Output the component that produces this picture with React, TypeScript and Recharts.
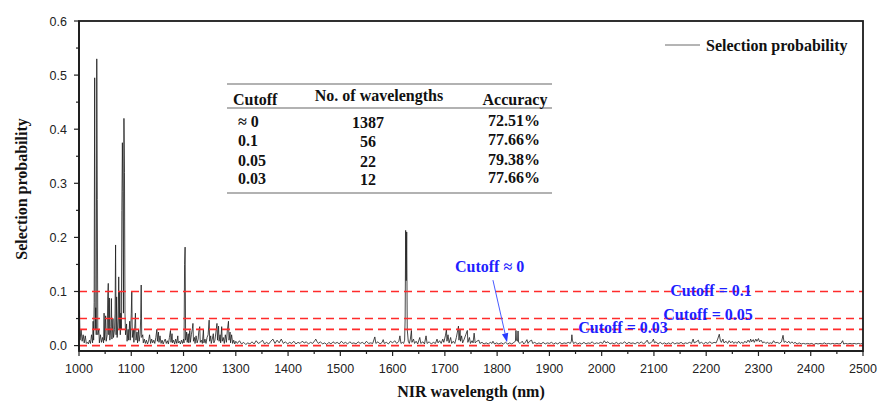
import { LineChart, Line, XAxis, YAxis, ReferenceLine } from "recharts";

// selection probability per wavelength (nm)
const band1000 = [
  [1000, 0.02], [1001, 0.066], [1002, 0.01], [1004, 0.03], [1006, 0.008], [1008, 0.02], [1010, 0.005],
  [1012, 0.018], [1014, 0.004], [1016, 0.006], [1018, 0.003], [1020, 0.01], [1022, 0.004], [1024, 0.02],
  [1026, 0.005], [1027, 0.045], [1028, 0.01], [1029, 0.08], [1030, 0.495], [1031, 0.03], [1032, 0.07],
  [1033, 0.02], [1034, 0.53], [1035, 0.27], [1036, 0.02], [1038, 0.03], [1039, 0.005], [1041, 0.02],
  [1043, 0.006], [1045, 0.015], [1047, 0.005], [1048, 0.06], [1049, 0.01], [1051, 0.055], [1052, 0.008],
  [1054, 0.02], [1055, 0.09], [1056, 0.115], [1057, 0.02], [1058, 0.088], [1059, 0.01], [1061, 0.035],
  [1062, 0.087], [1063, 0.012], [1065, 0.05], [1066, 0.015], [1068, 0.03], [1069, 0.06], [1070, 0.186],
  [1071, 0.02], [1072, 0.09], [1073, 0.015], [1075, 0.05], [1076, 0.127], [1077, 0.03], [1078, 0.1],
  [1079, 0.02], [1080, 0.06], [1081, 0.03], [1082, 0.25], [1083, 0.375], [1084, 0.285], [1085, 0.06],
  [1086, 0.42], [1087, 0.32], [1088, 0.06], [1089, 0.02], [1091, 0.04], [1092, 0.008], [1094, 0.03],
  [1095, 0.01], [1097, 0.045], [1098, 0.01], [1100, 0.06], [1101, 0.1], [1102, 0.015], [1104, 0.03],
  [1105, 0.006], [1107, 0.04], [1108, 0.06], [1109, 0.01], [1111, 0.025], [1112, 0.005], [1114, 0.03],
  [1115, 0.008], [1117, 0.02], [1118, 0.05], [1119, 0.112], [1120, 0.015], [1122, 0.02], [1123, 0.005],
];

const band1125 = [
  [1125, 0.012], [1127, 0.004], [1129, 0.01], [1131, 0.003], [1133, 0.008], [1135, 0.02], [1137, 0.004],
  [1139, 0.012], [1141, 0.005], [1143, 0.01], [1145, 0.004], [1147, 0.015], [1149, 0.03], [1150, 0.008],
  [1152, 0.025], [1153, 0.006], [1155, 0.018], [1157, 0.004], [1159, 0.01], [1161, 0.003], [1163, 0.008],
  [1165, 0.012], [1167, 0.004], [1169, 0.009], [1171, 0.003], [1173, 0.015], [1175, 0.028], [1176, 0.006],
  [1178, 0.022], [1179, 0.005], [1181, 0.01], [1183, 0.003], [1185, 0.012], [1187, 0.004], [1189, 0.018],
  [1190, 0.005], [1192, 0.008], [1194, 0.003], [1196, 0.01], [1198, 0.004], [1200, 0.012], [1201, 0.005],
  [1202, 0.15], [1203, 0.182], [1204, 0.01], [1206, 0.025], [1207, 0.006], [1209, 0.022], [1210, 0.005],
  [1212, 0.028], [1213, 0.006], [1215, 0.02], [1217, 0.032], [1218, 0.041], [1219, 0.008], [1221, 0.015],
  [1222, 0.004], [1224, 0.018], [1226, 0.005], [1228, 0.012], [1229, 0.025], [1231, 0.035], [1232, 0.006],
  [1234, 0.01], [1236, 0.004], [1238, 0.029], [1239, 0.005], [1241, 0.012], [1243, 0.004], [1245, 0.015],
  [1247, 0.02], [1249, 0.047], [1250, 0.008], [1252, 0.018], [1253, 0.004], [1255, 0.012], [1257, 0.022],
  [1258, 0.005], [1260, 0.01], [1262, 0.025], [1264, 0.041], [1265, 0.01], [1267, 0.036], [1268, 0.008],
  [1270, 0.02], [1271, 0.005], [1273, 0.035], [1274, 0.008], [1276, 0.015], [1278, 0.004], [1280, 0.02],
  [1282, 0.006], [1284, 0.03], [1286, 0.045], [1287, 0.01], [1289, 0.025], [1290, 0.005], [1292, 0.02],
  [1294, 0.004], [1296, 0.01], [1298, 0.003], [1300, 0.008],
];

const band1300 = [
  [1303, 0.004], [1307, 0.009], [1311, 0.003], [1315, 0.006], [1319, 0.002], [1323, 0.005], [1327, 0.003],
  [1331, 0.007], [1335, 0.003], [1339, 0.009], [1343, 0.004], [1347, 0.006], [1351, 0.01], [1355, 0.003],
  [1359, 0.006], [1363, 0.003], [1367, 0.008], [1371, 0.012], [1375, 0.004], [1379, 0.01], [1383, 0.005],
  [1387, 0.012], [1391, 0.004], [1395, 0.007], [1399, 0.003], [1403, 0.006], [1407, 0.004], [1411, 0.008],
  [1415, 0.003], [1419, 0.006], [1423, 0.004], [1427, 0.008], [1431, 0.005], [1435, 0.007], [1439, 0.003],
  [1443, 0.006], [1447, 0.004], [1451, 0.009], [1453, 0.012], [1455, 0.008], [1458, 0.004], [1462, 0.007],
  [1466, 0.003], [1470, 0.005], [1474, 0.002], [1478, 0.006], [1482, 0.003], [1486, 0.007], [1490, 0.004],
  [1494, 0.006], [1498, 0.003], [1502, 0.008], [1506, 0.004], [1510, 0.006], [1514, 0.003], [1518, 0.007],
  [1522, 0.004], [1526, 0.005], [1530, 0.003], [1534, 0.007], [1538, 0.004], [1542, 0.006], [1546, 0.003],
  [1550, 0.008], [1554, 0.004], [1558, 0.005], [1562, 0.004], [1566, 0.016], [1568, 0.004], [1572, 0.007],
  [1576, 0.003], [1580, 0.006], [1582, 0.011], [1584, 0.004], [1588, 0.006], [1592, 0.003], [1596, 0.008],
  [1600, 0.005], [1604, 0.009], [1608, 0.004], [1612, 0.008], [1614, 0.018], [1616, 0.004], [1619, 0.006],
  [1621, 0.004],
];

const band1620 = [
  [1623, 0.01], [1624, 0.05], [1625, 0.213], [1626, 0.12], [1627, 0.21], [1628, 0.03], [1630, 0.008],
  [1632, 0.004], [1634, 0.012], [1636, 0.028], [1637, 0.006], [1640, 0.012], [1642, 0.004], [1645, 0.008],
  [1648, 0.003], [1652, 0.015], [1654, 0.004], [1658, 0.007], [1661, 0.003], [1664, 0.018], [1666, 0.004],
  [1670, 0.007], [1674, 0.003], [1678, 0.006], [1682, 0.004], [1685, 0.012], [1687, 0.005], [1690, 0.009],
  [1693, 0.004], [1696, 0.012], [1698, 0.006], [1701, 0.018], [1703, 0.03], [1704, 0.008], [1706, 0.02],
  [1708, 0.005], [1711, 0.015], [1713, 0.004], [1716, 0.008], [1719, 0.004], [1722, 0.015], [1724, 0.025],
  [1726, 0.036], [1727, 0.01], [1729, 0.029], [1730, 0.008], [1732, 0.018], [1734, 0.005], [1737, 0.012],
  [1740, 0.02], [1743, 0.028], [1744, 0.006], [1747, 0.015], [1749, 0.004], [1752, 0.009], [1754, 0.005],
  [1756, 0.023], [1758, 0.005], [1761, 0.008], [1765, 0.01], [1767, 0.004], [1771, 0.006], [1775, 0.003],
  [1779, 0.005], [1783, 0.003], [1787, 0.006], [1790, 0.004], [1792, 0.008], [1795, 0.003], [1799, 0.005],
  [1803, 0.003], [1808, 0.005], [1812, 0.003], [1816, 0.006], [1820, 0.003], [1824, 0.005], [1828, 0.003],
  [1832, 0.006], [1835, 0.008], [1836, 0.028], [1837, 0.01], [1839, 0.008], [1840, 0.027], [1841, 0.006],
  [1844, 0.004], [1848, 0.008], [1851, 0.003], [1854, 0.006], [1857, 0.011], [1859, 0.004], [1862, 0.008],
  [1866, 0.01], [1868, 0.004], [1872, 0.006], [1876, 0.003], [1880, 0.005], [1884, 0.003], [1888, 0.006],
  [1892, 0.003], [1896, 0.005], [1900, 0.004], [1904, 0.006], [1908, 0.003], [1912, 0.005], [1916, 0.003],
  [1920, 0.006], [1924, 0.003], [1928, 0.005], [1932, 0.004], [1936, 0.006], [1940, 0.004], [1942, 0.008],
  [1943, 0.02], [1944, 0.01], [1946, 0.004],
];

const band1950 = [
  [1950, 0.006], [1954, 0.003], [1958, 0.005], [1962, 0.003], [1966, 0.006], [1970, 0.003], [1974, 0.005],
  [1978, 0.004], [1982, 0.007], [1986, 0.003], [1990, 0.005], [1994, 0.004], [1998, 0.006], [2002, 0.004],
  [2005, 0.009], [2008, 0.005], [2012, 0.007], [2016, 0.003], [2020, 0.005], [2024, 0.003], [2028, 0.006],
  [2032, 0.003], [2036, 0.005], [2040, 0.004], [2044, 0.007], [2048, 0.003], [2052, 0.006], [2056, 0.004],
  [2060, 0.005], [2064, 0.003], [2068, 0.006], [2072, 0.004], [2076, 0.007], [2080, 0.003], [2084, 0.006],
  [2087, 0.01], [2090, 0.004], [2094, 0.005], [2097, 0.008], [2099, 0.012], [2101, 0.005], [2104, 0.007],
  [2108, 0.003], [2112, 0.006], [2116, 0.003], [2120, 0.005], [2124, 0.003], [2128, 0.005], [2132, 0.003],
  [2136, 0.006], [2140, 0.003], [2144, 0.005], [2148, 0.004], [2152, 0.006], [2156, 0.003], [2160, 0.005],
  [2164, 0.004], [2168, 0.006], [2172, 0.004], [2175, 0.012], [2177, 0.005], [2181, 0.007], [2185, 0.01],
  [2187, 0.004], [2191, 0.006], [2195, 0.003], [2199, 0.006], [2203, 0.004], [2207, 0.007], [2211, 0.004],
  [2215, 0.006], [2219, 0.005], [2222, 0.012], [2225, 0.021], [2227, 0.01], [2229, 0.006], [2232, 0.012],
  [2234, 0.005], [2238, 0.008], [2241, 0.004], [2244, 0.009], [2247, 0.005], [2250, 0.008], [2253, 0.004],
  [2256, 0.007], [2259, 0.004], [2262, 0.008], [2265, 0.004], [2268, 0.006], [2271, 0.004], [2274, 0.008],
  [2277, 0.005], [2280, 0.01], [2283, 0.006], [2285, 0.012], [2287, 0.007], [2290, 0.011], [2292, 0.006],
  [2295, 0.012], [2297, 0.008], [2300, 0.013], [2302, 0.007], [2305, 0.01], [2308, 0.005], [2311, 0.007],
  [2314, 0.004], [2317, 0.006], [2320, 0.004], [2323, 0.005], [2326, 0.004], [2329, 0.009], [2332, 0.005],
  [2336, 0.006], [2340, 0.004], [2344, 0.007], [2347, 0.019], [2349, 0.006], [2352, 0.008], [2355, 0.005],
  [2358, 0.008], [2361, 0.004], [2364, 0.007], [2367, 0.004], [2370, 0.006], [2374, 0.003], [2378, 0.005],
  [2382, 0.003], [2386, 0.004], [2390, 0.003], [2394, 0.004], [2398, 0.003], [2402, 0.004], [2406, 0.002],
  [2410, 0.004], [2414, 0.003], [2418, 0.004], [2422, 0.003], [2426, 0.005], [2430, 0.003], [2434, 0.004],
  [2438, 0.003], [2442, 0.004], [2446, 0.003], [2450, 0.004], [2454, 0.003], [2458, 0.004], [2461, 0.009],
  [2463, 0.003], [2467, 0.004], [2471, 0.003], [2475, 0.004], [2479, 0.003], [2483, 0.004], [2487, 0.003],
  [2491, 0.004], [2495, 0.003], [2499, 0.004],
];

const spectrum = [...band1000, ...band1125, ...band1300, ...band1620, ...band1950].map(([wl, p]) => ({ wl, p }));

const xTicks = [
  1000, 1050, 1100, 1150, 1200, 1250, 1300, 1350, 1400, 1450, 1500, 1550, 1600, 1650, 1700, 1750,
  1800, 1850, 1900, 1950, 2000, 2050, 2100, 2150, 2200, 2250, 2300, 2350, 2400, 2450, 2500,
];
const yTicks = [0, 0.05, 0.1, 0.15, 0.2, 0.25, 0.3, 0.35, 0.4, 0.45, 0.5, 0.55, 0.6];
const cutoffLines = [0.1, 0.05, 0.03, 0];

const tableHead = ["Cutoff", "No. of wavelengths", "Accuracy"];
const tableCutoff = ["≈ 0", "0.1", "0.05", "0.03"];
const tableCount = ["1387", "56", "22", "12"];
const tableAccuracy = ["72.51%", "77.66%", "79.38%", "77.66%"];

const arrowFrom = { x: 1792, y: 0.121 };
const arrowTo = { x: 1819, y: 0.006 };

const SERIF = '"Liberation Serif", "Times New Roman", "DejaVu Serif", serif';
const SANS = '"Liberation Sans", Arial, sans-serif';
const INK = "#222";
const BLUE = "#1f1fff";

function XTick({ x, y, payload }: any) {
  const major = payload.value % 100 === 0;
  return (
    <g>
      <line x1={x} x2={x} y1={y} y2={y + (major ? 5 : 3)} stroke={INK} strokeWidth={1.2} />
      {major && (
        <text x={x} y={y + 21.5} textAnchor="middle" fill={INK} style={{ fontFamily: SANS, fontSize: 12.5 }}>
          {payload.value}
        </text>
      )}
    </g>
  );
}

function YTick({ x, y, payload }: any) {
  const v = payload.value;
  const major = Math.abs(v * 10 - Math.round(v * 10)) < 1e-6;
  return (
    <g>
      <line x1={x} x2={x - (major ? 5 : 3)} y1={y} y2={y} stroke={INK} strokeWidth={1.2} />
      {major && (
        <text x={x - 12} y={y + 4.5} textAnchor="end" fill={INK} style={{ fontFamily: SANS, fontSize: 12.5 }}>
          {v.toFixed(1)}
        </text>
      )}
    </g>
  );
}

function Arrow({ x1, y1, x2, y2 }: any) {
  const ang = Math.atan2(y2 - y1, x2 - x1);
  const len = 9;
  const w = 3.2;
  const bx = x2 - len * Math.cos(ang);
  const by = y2 - len * Math.sin(ang);
  const px = -Math.sin(ang) * w;
  const py = Math.cos(ang) * w;
  return (
    <g>
      <line x1={x1} y1={y1} x2={bx} y2={by} stroke="#4a5cff" strokeWidth={1} />
      <polygon points={`${x2},${y2} ${bx + px},${by + py} ${bx - px},${by - py}`} fill="#2a3cff" />
    </g>
  );
}

export default function App() {
  const rowY = [127, 146, 166, 184];
  const serif = { fontFamily: SERIF, fontWeight: 700, fontSize: 16 };
  return (
    <div style={{ position: "absolute", left: 0, top: 0, width: 878, height: 402, background: "#fff" }}>
      <LineChart width={878} height={402} data={spectrum} margin={{ top: 21, right: 15, bottom: 0, left: 0 }}>
        <XAxis
          dataKey="wl"
          type="number"
          domain={[1000, 2500]}
          ticks={xTicks}
          interval={0}
          height={51}
          tickSize={0}
          tickMargin={0}
          tickLine={false}
          allowDataOverflow
          axisLine={{ stroke: INK, strokeWidth: 1.5 }}
          tick={(p: any) => <XTick {...p} />}
        />
        <YAxis
          type="number"
          domain={[-0.01, 0.6]}
          ticks={yTicks}
          interval={0}
          width={79}
          tickSize={0}
          tickMargin={0}
          tickLine={false}
          allowDataOverflow
          axisLine={{ stroke: INK, strokeWidth: 1.5 }}
          tick={(p: any) => <YTick {...p} />}
        />
        <Line
          type="linear"
          dataKey="p"
          stroke="#1c1c1c"
          strokeWidth={0.8}
          dot={false}
          activeDot={false}
          isAnimationActive={false}
        />
        {cutoffLines.map((c) => (
          <ReferenceLine key={c} y={c} stroke="#ff2b2b" strokeWidth={1.6} strokeDasharray="8 5" />
        ))}
        <ReferenceLine segment={[arrowFrom, arrowTo]} shape={(p: any) => <Arrow {...p} />} />
      </LineChart>

      <svg width={878} height={402} style={{ position: "absolute", left: 0, top: 0, pointerEvents: "none" }}>
        {/* plot frame */}
        <rect x={79} y={21} width={784} height={330} fill="none" stroke="#1a1a1a" strokeWidth={1.8} />

        <text transform="translate(27,189) rotate(-90)" textAnchor="middle" fill="#111" style={serif}>
          Selection probability
        </text>
        <text x={471} y={397} textAnchor="middle" fill="#111" style={serif}>
          NIR wavelength (nm)
        </text>

        <line x1={665} x2={700} y1={45} y2={45} stroke="#444" strokeWidth={0.8} />
        <text x={706} y={50.5} fill="#111" style={serif}>
          Selection probability
        </text>

        <line x1={227} x2={552} y1={84} y2={84} stroke="#999" strokeWidth={1.5} />
        <line x1={227} x2={552} y1={108} y2={108} stroke="#999" strokeWidth={1.5} />
        <line x1={227} x2={552} y1={193} y2={193} stroke="#999" strokeWidth={1.5} />
        <text x={233} y={105} fill="#111" style={serif}>{tableHead[0]}</text>
        <text x={379} y={101} textAnchor="middle" fill="#111" style={serif}>{tableHead[1]}</text>
        <text x={515} y={105} textAnchor="middle" fill="#111" style={serif}>{tableHead[2]}</text>
        {tableCutoff.map((c, i) => (
          <g key={c}>
            <text x={238} y={rowY[i]} fill="#111" style={serif}>{c}</text>
            <text x={368} y={rowY[i] + 1} textAnchor="middle" fill="#111" style={serif}>{tableCount[i]}</text>
            <text x={514} y={rowY[i] - 1} textAnchor="middle" fill="#111" style={serif}>{tableAccuracy[i]}</text>
          </g>
        ))}

        <text x={455} y={272} fill={BLUE} style={serif}>Cutoff ≈ 0</text>
        <text x={711} y={296} textAnchor="middle" fill={BLUE} style={serif}>Cutoff = 0.1</text>
        <text x={708} y={320} textAnchor="middle" fill={BLUE} style={serif}>Cutoff = 0.05</text>
        <text x={623} y={333} textAnchor="middle" fill={BLUE} style={serif}>Cutoff = 0.03</text>
      </svg>
    </div>
  );
}
